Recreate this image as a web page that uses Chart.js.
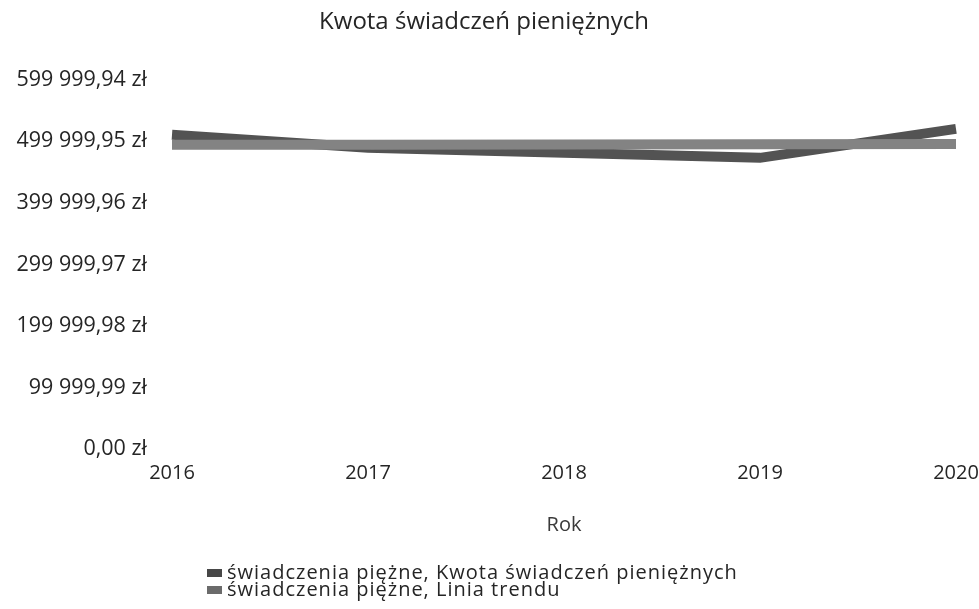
<!DOCTYPE html>
<html lang="pl">
<head>
<meta charset="utf-8">
<script src="https://cdn.jsdelivr.net/npm/chart.js@4.4.1/dist/chart.umd.min.js"></script>
<style>
  html, body { margin: 0; padding: 0; background: #ffffff; }
  #wrap { width: 979px; height: 609px; position: relative; }
</style>
</head>
<body>
<div id="wrap"><canvas id="c" width="979" height="609"></canvas></div>
<script>
const years = ['2016', '2017', '2018', '2019', '2020'];
const kwota = [510600, 489400, 481300, 473200, 520300];
const trend = [494300, 494600, 495000, 495300, 495600];
const yTicks = [0, 99999.99, 199999.98, 299999.97, 399999.96, 499999.95, 599999.94];
const seriesLabels = ['świadczenia piężne, Kwota świadczeń pieniężnych', 'świadczenia piężne, Linia trendu'];
const chartTitle = 'Kwota świadczeń pieniężnych';
const xTitle = 'Rok';

const FONT = "'Open Sans', 'Noto Sans', sans-serif";
const TEXT = '#252525';

function fmtZl(v) {
  const parts = v.toFixed(2).split('.');
  const intPart = parts[0].replace(/\B(?=(\d{3})+(?!\d))/g, ' ');
  return intPart + ',' + parts[1] + ' zł';
}

const stackedLegend = {
  id: 'stackedLegend',
  afterDraw(chart, args, opts) {
    const ctx = chart.ctx;
    ctx.save();
    ctx.font = opts.fontSize + 'px ' + FONT;
    if ('letterSpacing' in ctx) ctx.letterSpacing = opts.letterSpacing + 'px';
    ctx.textBaseline = 'middle';
    ctx.textAlign = 'left';
    chart.data.datasets.forEach((ds, i) => {
      const y = opts.top + i * opts.gap;
      ctx.fillStyle = ds.legendColor;
      ctx.fillRect(opts.left, y - 4, 15, 8);
      ctx.fillStyle = TEXT;
      ctx.fillText(ds.label, opts.left + 20, y);
    });
    ctx.restore();
  }
};

new Chart(document.getElementById('c'), {
  type: 'line',
  data: {
    labels: years,
    datasets: [
      {
        label: seriesLabels[0],
        data: kwota,
        borderColor: '#535353',
        legendColor: '#474747',
        borderWidth: 10,
        borderCapStyle: 'butt',
        borderJoinStyle: 'miter',
        pointRadius: 0,
        tension: 0,
        fill: false,
        order: 2
      },
      {
        label: seriesLabels[1],
        data: trend,
        borderColor: '#838383',
        legendColor: '#6b6b6b',
        borderWidth: 10,
        borderCapStyle: 'butt',
        borderJoinStyle: 'miter',
        pointRadius: 0,
        tension: 0,
        fill: false,
        order: 1
      }
    ]
  },
  options: {
    responsive: false,
    animation: false,
    layout: { padding: { left: 12, right: 23, top: 0, bottom: 72 } },
    plugins: {
      legend: { display: false },
      tooltip: { enabled: false },
      title: {
        display: true,
        text: chartTitle,
        color: TEXT,
        font: { family: FONT, size: 24, weight: 'normal' },
        padding: { top: 8, bottom: 43 }
      },
      stackedLegend: { left: 207, top: 573, gap: 17, fontSize: 20, letterSpacing: 1 }
    },
    scales: {
      x: {
        grid: { display: false, drawTicks: false },
        border: { display: false },
        afterFit(scale) { scale.height = 88; scale.paddingRight = 0; scale.paddingLeft = 0; },
        ticks: { color: TEXT, font: { family: FONT, size: 20 }, padding: 12, maxRotation: 0 },
        title: { display: true, text: xTitle, color: '#3a3a3a', font: { family: FONT, size: 20 }, padding: { top: 0, bottom: 0 } }
      },
      y: {
        min: 0,
        max: yTicks[yTicks.length - 1],
        grid: { display: false, drawTicks: false },
        border: { display: false },
        afterFit(scale) { scale.width = 160; },
        afterBuildTicks(scale) { scale.ticks = yTicks.map(v => ({ value: v })); },
        ticks: {
          color: TEXT,
          font: { family: FONT, size: 21.5 },
          padding: 25,
          callback: (v) => fmtZl(v)
        }
      }
    }
  },
  plugins: [stackedLegend]
});
</script>
</body>
</html>
